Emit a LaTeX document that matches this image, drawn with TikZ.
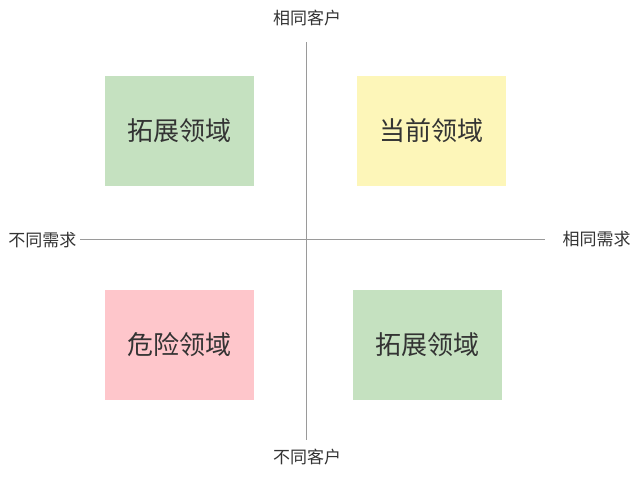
\documentclass[tikz,border=0pt]{standalone}
\usepackage{fontspec}
\newfontfamily\cjk{Noto Sans CJK SC}
\definecolor{boxgreen}{HTML}{C5E1C0}
\definecolor{boxyellow}{HTML}{FDF6B9}
\definecolor{boxpink}{HTML}{FEC6CB}
\definecolor{txt}{HTML}{333333}
\definecolor{axis}{HTML}{9A9A9A}
\begin{document}
\begin{tikzpicture}[x=1pt,y=-1pt,
  quad/.style={minimum width=149pt,minimum height=110pt,inner sep=0pt,font=\cjk\fontsize{26}{30}\selectfont,text=txt},
  axlabel/.style={font=\cjk\fontsize{17}{20}\selectfont,text=txt,inner sep=0pt},
  axline/.style={draw=axis,line width=0.9pt}]
\useasboundingbox (0,0) rectangle (640,477);
\node[quad,fill=boxgreen] (tl) at (179.5,131) {拓展领域};
\node[quad,fill=boxyellow] (tr) at (431.5,131) {当前领域};
\node[quad,fill=boxpink] (bl) at (179.5,345) {危险领域};
\node[quad,fill=boxgreen] (br) at (427.5,345) {拓展领域};
\node[axlabel] (top) at (307,18) {相同客户};
\node[axlabel] (bot) at (307,457) {不同客户};
\node[axlabel] (left) at (42.5,240) {不同需求};
\node[axlabel] (right) at (596.5,239) {相同需求};
\coordinate (vt) at (306,42);
\coordinate (vb) at (306,440);
\coordinate (hl) at (80,239);
\coordinate (hr) at (545,239);
\draw[axline] (vt) -- (vb);
\draw[axline] (hl) -- (hr);
\end{tikzpicture}
\end{document}
